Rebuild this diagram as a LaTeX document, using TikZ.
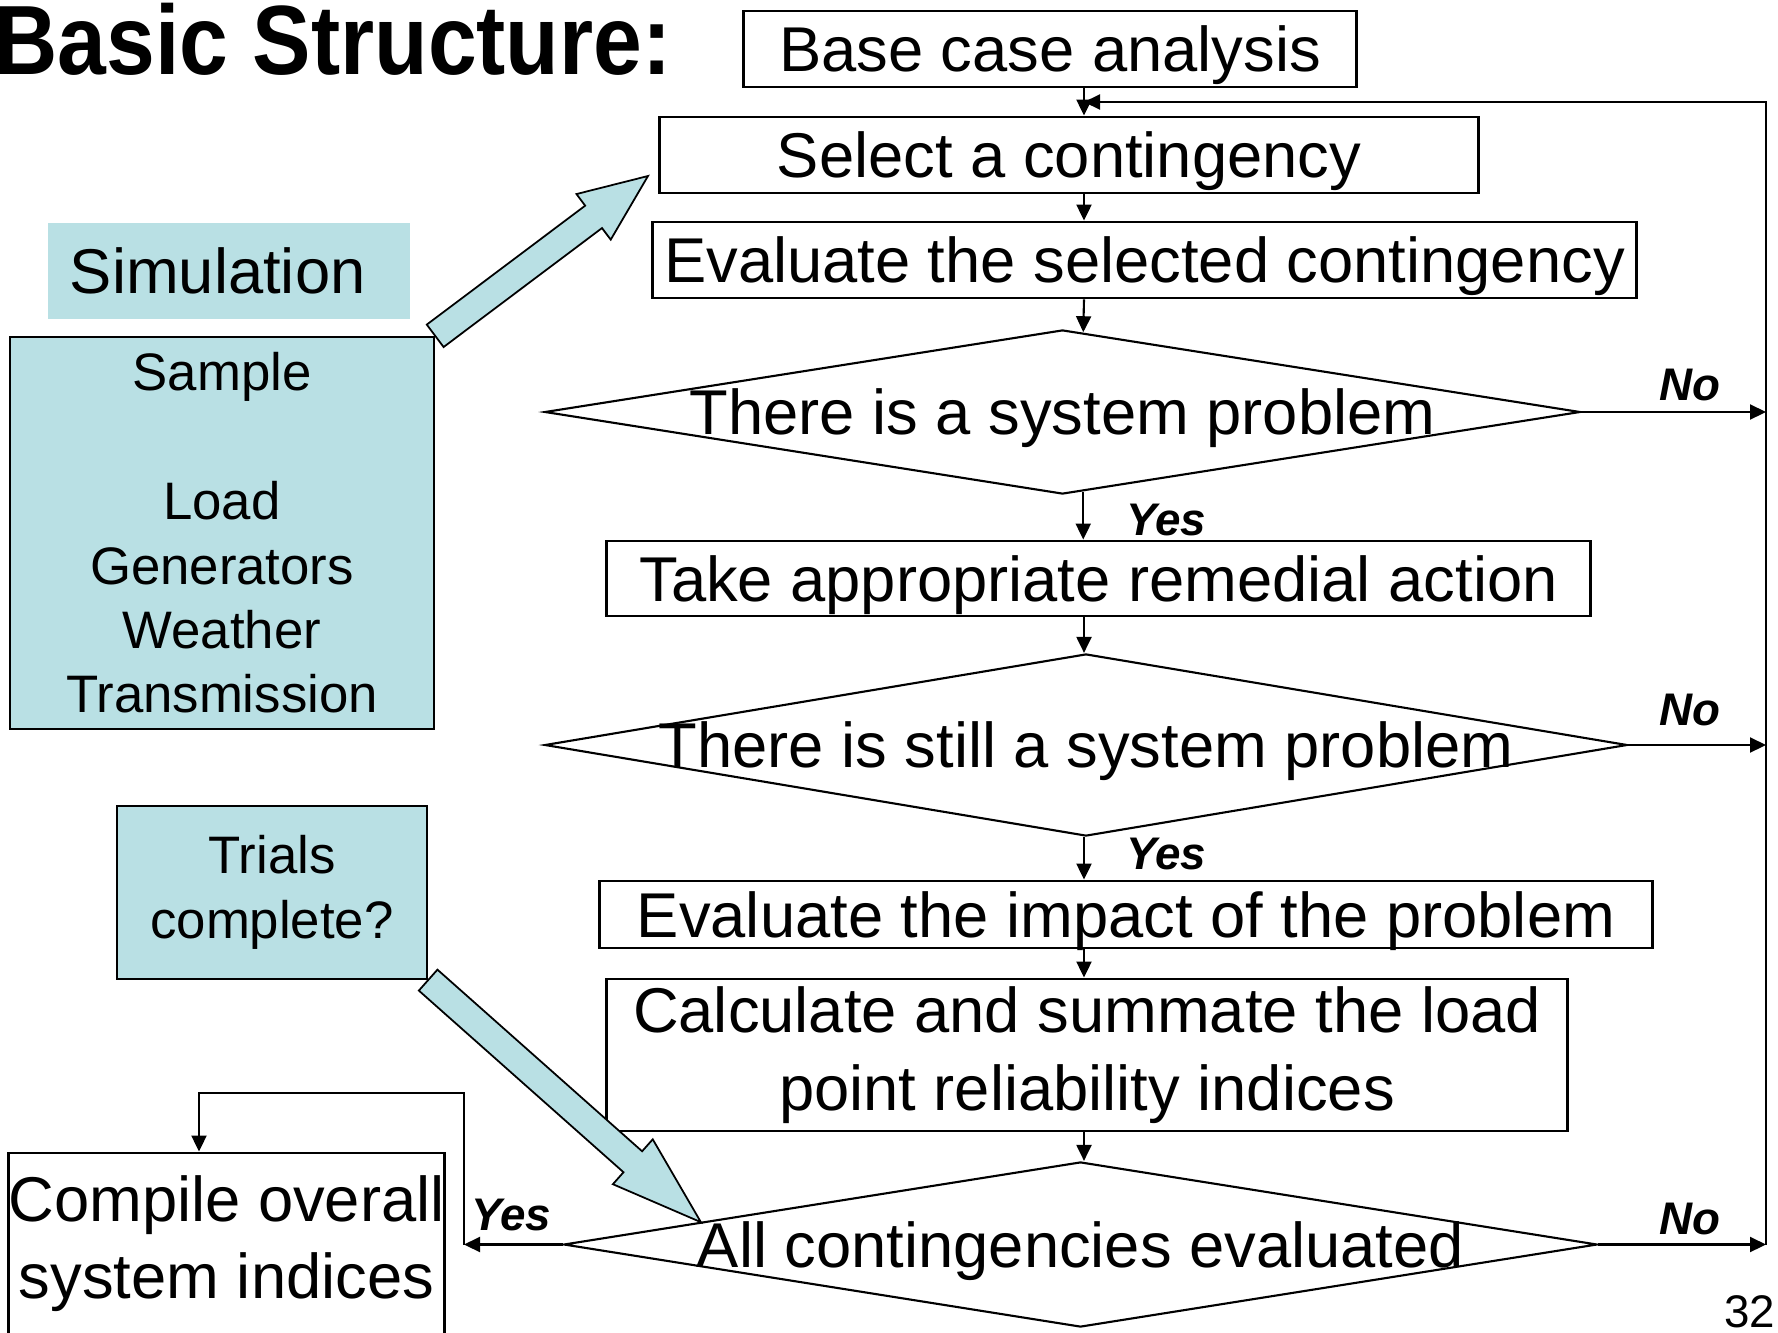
\documentclass[tikz,border=0pt]{standalone}
\usepackage{fontspec}
\setmainfont{Liberation Sans}
\newfontfamily\titlefont{Liberation Sans}[FakeStretch=0.89]
\usepackage{tikz}
\usetikzlibrary{arrows.meta,shapes.geometric,calc}
\definecolor{simblue}{RGB}{185,224,228}

% fat arrow: tail, tip, half shaft, half head, head length
\newcommand{\blockarrow}[5]{%
  \coordinate (ba-h) at ($(#2)!#5!(#1)$);
  \draw[fat] ($(#1)!#3!90:(#2)$) -- ($(ba-h)!#3!90:(#2)$) -- ($(ba-h)!#4!90:(#2)$) -- (#2)
    -- ($(ba-h)!#4!-90:(#2)$) -- ($(ba-h)!#3!-90:(#2)$) -- ($(#1)!#3!-90:(#2)$) -- cycle;
}

\begin{document}
\begin{tikzpicture}[x=0.01cm,y=-0.01cm]
\tikzstyle{every node}=[inner sep=0pt]
\tikzstyle{box}=[rectangle,draw,line width=0.8pt,font=\fontsize{18}{22}\selectfont]
\tikzstyle{process}=[box,text depth=0pt]
\tikzstyle{decision}=[diamond,draw,line width=0.6pt,text depth=0pt,font=\fontsize{18}{22}\selectfont]
\tikzstyle{sim}=[rectangle,fill=simblue,font=\fontsize{15}{18.3}\selectfont,align=center]
\tikzstyle{flow}=[line width=0.6pt,-{Triangle[length=1.6mm,width=1.5mm]}]
\tikzstyle{lbl}=[font=\fontsize{13}{15}\selectfont\bfseries\itshape]
\tikzstyle{fat}=[draw,line width=0.5pt,fill=simblue,line join=miter]

\useasboundingbox (0,0) rectangle (1778,1333);
\clip (0,0) rectangle (1778,1333);

\node[anchor=base west,font={\titlefont\bfseries\fontsize{28}{32}\selectfont}] (title) at (-6,74) {Basic Structure:};

% main column
\coordinate (axis) at (1084,0);
\node[process,minimum width=6.12cm,minimum height=0.76cm] (base) at (1050,49) {Base case analysis};
\node[process,minimum width=8.18cm,minimum height=0.76cm] (select) at (1069,155) {Select a contingency};
\node[process,minimum width=9.83cm,minimum height=0.76cm] (evalsel) at (1144.5,260) {Evaluate the selected contingency};
\node[decision,minimum width=10.35cm,minimum height=1.64cm] (prob) at (1062.5,412) {\makebox[0pt]{There is a system problem}};
\node[process,minimum width=9.83cm,minimum height=0.75cm] (remedy) at (1098.5,578.5) {Take appropriate remedial action};
\node[decision,minimum width=10.82cm,minimum height=1.82cm] (still) at (1086,745) {\makebox[0pt]{There is still a system problem}};
\node[process,minimum width=10.52cm,minimum height=0.67cm] (impact) at (1126,914.5) {Evaluate the impact of the problem};
\node[box,minimum width=9.60cm,minimum height=1.52cm,align=center] (calc) at (1087,1055) {Calculate and summate the load\\point reliability indices};
\node[decision,minimum width=10.33cm,minimum height=1.65cm] (allc) at (1080.5,1244.5) {\makebox[0pt]{All contingencies evaluated}};

% left side
\node[sim,minimum width=3.62cm,minimum height=0.96cm,text width=3.18cm,align=left,font=\fontsize{18}{22}\selectfont] (simlabel) at (229,271) {Simulation};
\node[sim,draw,line width=0.6pt,minimum width=4.24cm,minimum height=3.92cm] (sample) at (222,533) {Sample\\[18.3pt]Load\\Generators\\Weather\\Transmission};
\node[sim,draw,line width=0.6pt,minimum width=3.10cm,minimum height=1.73cm] (trials) at (272,892.5) {Trials\\complete?};
\node[box,minimum width=4.33cm,minimum height=1.81cm,align=center] (compile) at (226.5,1243.5) {Compile overall\\system indices};

\coordinate (loop) at (1766,102);
\coordinate (back) at (464,1093);
\coordinate (down) at (199,1093);

\draw[flow] (base.south -| axis) -- (select.north -| axis);
\draw[flow] (select.south -| axis) -- (evalsel.north -| axis);
\draw[flow] (evalsel.south -| axis) -- ($(prob.north)!0.04!(prob.east)$);
\draw[flow] ($(prob.south)!0.04!(prob.east)$) coordinate (p1) -- (p1 |- remedy.north);
\draw[flow] (remedy.south -| axis) -- (axis |- still.north);
\draw[flow] (axis |- still.south) -- (impact.north -| axis);
\draw[flow] (impact.south -| axis) -- (calc.north -| axis);
\draw[flow] (calc.south -| axis) -- (axis |- allc.north);

% No branches and return line
\draw[flow] (prob.east) -- (prob.east -| loop);
\draw[flow] (still.east) -- (still.east -| loop);
\draw[flow] (allc.east) -- (allc.east -| loop);
\draw[flow] (allc.east -| loop) -- (loop) -- (loop -| axis);

% Yes branch to compile
\draw[flow] (allc.west) -- (allc.west -| back);
\draw[flow] (allc.west -| back) -- (back) -- (down) -- (down |- compile.north);

\node[lbl,anchor=base west] (yes1) at (1126,535) {Yes};
\node[lbl,anchor=base west] (yes2) at (1126,869) {Yes};
\node[lbl,anchor=base west] (yes3) at (471,1230) {Yes};
\node[lbl,anchor=base west] (no1) at (1659,400) {No};
\node[lbl,anchor=base west] (no2) at (1659,725) {No};
\node[lbl,anchor=base west] (no3) at (1659,1234) {No};

% fat arrows
\coordinate (simtip) at (648,176);
\coordinate (trialtip) at ($(allc.west)!0.267!(allc.north)$);
\blockarrow{sample.north east}{simtip}{0.14cm}{0.285cm}{0.68cm}
\blockarrow{trials.south east}{trialtip}{0.14cm}{0.30cm}{0.91cm}

\node[anchor=base east,font=\fontsize{13}{15}\selectfont] (page) at (1776,1327) {32};
\end{tikzpicture}
\end{document}
